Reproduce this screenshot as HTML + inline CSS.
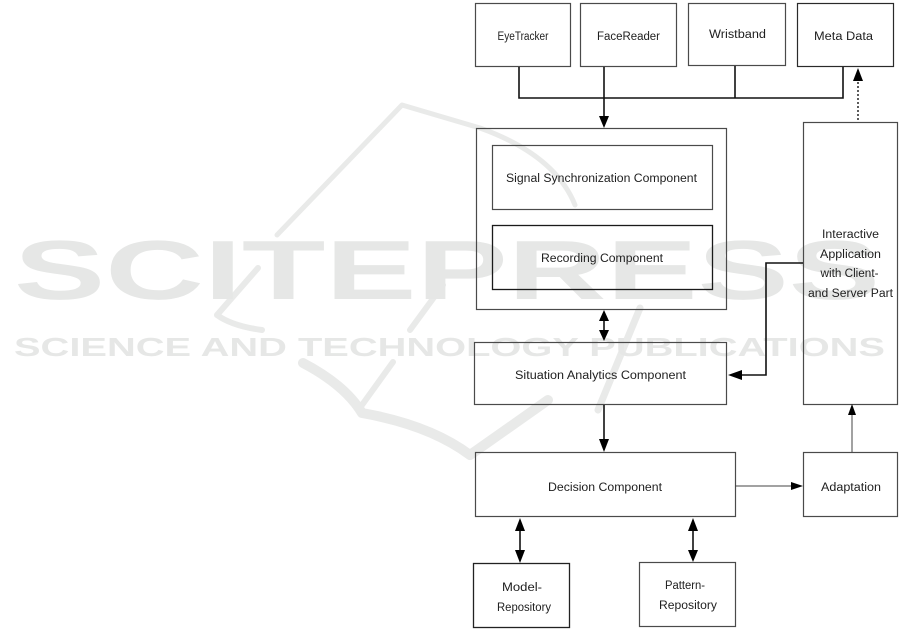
<!DOCTYPE html>
<html>
<head>
<meta charset="utf-8">
<style>
  html, body { margin:0; padding:0; background:#fff; }
  body { width:901px; height:630px; overflow:hidden; }
  svg { display:block; }
  .t { font-family:"Liberation Sans", sans-serif; font-size:11.5px; fill:#1e1e1e; }
  .wm { font-family:"Liberation Sans", sans-serif; fill:#e6e7e6; }
</style>
</head>
<body>
<svg width="901" height="630" viewBox="0 0 901 630" xmlns="http://www.w3.org/2000/svg">
  <!-- watermark -->
  <g fill="none" stroke="#e9eae9" stroke-linecap="round" stroke-linejoin="round">
    <path d="M277,235 L402,105 L480,128 Q555,155 575,205" stroke-width="5"/>
    <path d="M258,268 L217,315 Q232,326 262,330" stroke-width="6"/>
    <path d="M443,285 L410,330" stroke-width="6"/>
    <path d="M393,362 L362,405" stroke-width="6"/>
    <path d="M303,363 Q345,385 362,413 Q430,425 470,455 L548,400" stroke-width="10"/>
    <path d="M640,308 L598,410" stroke-width="7"/>
  </g>
  <text class="wm" x="14" y="299" font-size="84" font-weight="bold" textLength="866" lengthAdjust="spacingAndGlyphs">SCITEPRESS</text>
  <text class="wm" x="14" y="356" font-size="26" font-weight="bold" textLength="871" lengthAdjust="spacingAndGlyphs">SCIENCE AND TECHNOLOGY PUBLICATIONS</text>

  <!-- boxes -->
  <g fill="none" stroke="#4a4a4a" stroke-width="1.2">
    <rect x="475.5" y="3.5" width="95" height="63"/>
    <rect x="580.5" y="3.5" width="96" height="63"/>
    <rect x="688.5" y="3.5" width="97" height="62"/>
    <rect x="797.5" y="3.5" width="96" height="63" stroke="#2a2a2a"/>
    <rect x="476.5" y="128.5" width="250" height="181"/>
    <rect x="492.5" y="145.5" width="220" height="64"/>
    <rect x="492.5" y="225.5" width="220" height="64" stroke="#1a1a1a" stroke-width="1.3"/>
    <rect x="474.5" y="342.5" width="252" height="62"/>
    <rect x="803.5" y="122.5" width="94" height="282"/>
    <rect x="475.5" y="452.5" width="260" height="64"/>
    <rect x="803.5" y="452.5" width="94" height="64"/>
    <rect x="473.5" y="563.5" width="96" height="64" stroke="#222" stroke-width="1.3"/>
    <rect x="639.5" y="562.5" width="96" height="64"/>
  </g>

  <!-- connectors -->
  <g fill="none" stroke="#111" stroke-width="1.6">
    <path d="M519,67 L519,98 L843,98 L843,67"/>
    <path d="M604,67 L604,118"/>
    <path d="M735,66 L735,98"/>
    <path d="M604,320 L604,331"/>
    <path d="M803,263 L766,263 L766,375 L742,375"/>
    <path d="M604,405 L604,439"/>
    <path d="M520,531 L520,550"/>
    <path d="M693,531 L693,550"/>
  </g>
  <path d="M858,82 L858,122" stroke="#333" stroke-width="1.6" stroke-dasharray="2,2" fill="none"/>
  <path d="M735,486 L792,486" stroke="#444" stroke-width="1" fill="none"/>
  <path d="M852,452 L852,414" stroke="#444" stroke-width="1" fill="none"/>

  <!-- arrowheads -->
  <g fill="#000">
    <polygon points="599,116 609,116 604,128"/>
    <polygon points="853,81 863,81 858,68"/>
    <polygon points="599,321 609,321 604,310"/>
    <polygon points="599,330 609,330 604,341"/>
    <polygon points="742,370 742,380 728,375"/>
    <polygon points="599,439 609,439 604,452"/>
    <polygon points="791,482 791,490 803,486"/>
    <polygon points="848,415 856,415 852,404"/>
    <polygon points="515,531 525,531 520,518"/>
    <polygon points="515,550 525,550 520,563"/>
    <polygon points="688,531 698,531 693,518"/>
    <polygon points="688,550 698,550 693,562"/>
  </g>

  <!-- labels -->
  <g class="t" text-anchor="middle">
    <text x="523" y="40" textLength="51" lengthAdjust="spacingAndGlyphs">EyeTracker</text>
    <text x="628.5" y="40" textLength="63" lengthAdjust="spacingAndGlyphs">FaceReader</text>
    <text x="737.5" y="38" textLength="57" lengthAdjust="spacingAndGlyphs">Wristband</text>
    <text x="843.5" y="40" textLength="59" lengthAdjust="spacingAndGlyphs">Meta Data</text>
    <text x="601.5" y="182" textLength="191" lengthAdjust="spacingAndGlyphs">Signal Synchronization Component</text>
    <text x="602" y="262" textLength="122" lengthAdjust="spacingAndGlyphs">Recording Component</text>
    <text x="600.5" y="379" textLength="171" lengthAdjust="spacingAndGlyphs">Situation Analytics Component</text>
    <text x="850.5" y="238" textLength="57" lengthAdjust="spacingAndGlyphs">Interactive</text>
    <text x="850.5" y="258" textLength="61" lengthAdjust="spacingAndGlyphs">Application</text>
    <text x="849.5" y="277" textLength="58" lengthAdjust="spacingAndGlyphs">with Client-</text>
    <text x="850.5" y="297" textLength="85" lengthAdjust="spacingAndGlyphs">and Server Part</text>
    <text x="605" y="491" textLength="114" lengthAdjust="spacingAndGlyphs">Decision Component</text>
    <text x="851" y="491" textLength="60" lengthAdjust="spacingAndGlyphs">Adaptation</text>
    <text x="522" y="591" textLength="40" lengthAdjust="spacingAndGlyphs">Model-</text>
    <text x="524" y="611" textLength="54" lengthAdjust="spacingAndGlyphs">Repository</text>
    <text x="685" y="589" textLength="40" lengthAdjust="spacingAndGlyphs">Pattern-</text>
    <text x="688" y="609" textLength="58" lengthAdjust="spacingAndGlyphs">Repository</text>
  </g>
</svg>
</body>
</html>
